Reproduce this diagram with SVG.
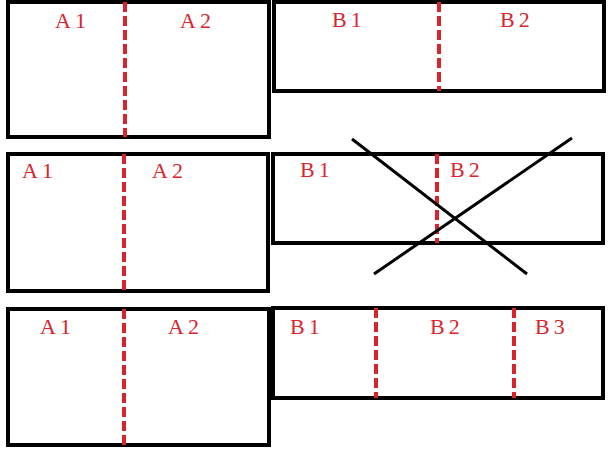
<svg xmlns="http://www.w3.org/2000/svg" width="608" height="451" viewBox="0 0 608 451">
<style>
.box{fill:none;stroke:#000;stroke-width:4}
.cut{stroke:#d9232d;stroke-width:4;stroke-dasharray:10 4;fill:none}
.lbl{font-family:"Liberation Serif",serif;font-size:22px;letter-spacing:4px;fill:#d9262e}
.x{stroke:#000;stroke-width:3}
</style>
<rect width="608" height="451" fill="#fff"/>
<g id="row1A">
<rect class="box" x="8" y="2" width="261" height="135"/>
<line class="cut" x1="125" y1="2" x2="125" y2="137"/>
<text class="lbl" x="55" y="28">A1</text>
<text class="lbl" x="180" y="28">A2</text>
</g>
<g id="row1B">
<rect class="box" x="274" y="2" width="330" height="89"/>
<line class="cut" x1="439" y1="2" x2="439" y2="91"/>
<text class="lbl" x="332" y="27">B1</text>
<text class="lbl" x="500" y="27">B2</text>
</g>
<g id="row2A">
<rect class="box" x="8" y="154" width="260" height="137"/>
<line class="cut" x1="124" y1="154" x2="124" y2="291"/>
<text class="lbl" x="22" y="178">A1</text>
<text class="lbl" x="152" y="178">A2</text>
</g>
<g id="row2B">
<rect class="box" x="273" y="154" width="330" height="89"/>
<line class="cut" x1="437" y1="154" x2="437" y2="243"/>
<text class="lbl" x="300" y="177">B1</text>
<text class="lbl" x="450" y="177">B2</text>
</g>
<g id="row3A">
<rect class="box" x="8" y="309" width="261" height="136"/>
<line class="cut" x1="124" y1="309" x2="124" y2="445"/>
<text class="lbl" x="40" y="334">A1</text>
<text class="lbl" x="168" y="334">A2</text>
</g>
<g id="row3B">
<rect class="box" x="273" y="308" width="330" height="90"/>
<line class="cut" x1="376" y1="308" x2="376" y2="398"/>
<line class="cut" x1="514" y1="308" x2="514" y2="398"/>
<text class="lbl" x="290" y="334">B1</text>
<text class="lbl" x="430" y="334">B2</text>
<text class="lbl" x="535" y="334">B3</text>
</g>
<g id="connectors">
<line class="x" x1="352" y1="139" x2="527" y2="274"/>
<line class="x" x1="572" y1="138" x2="374" y2="274"/>
</g>
</svg>
